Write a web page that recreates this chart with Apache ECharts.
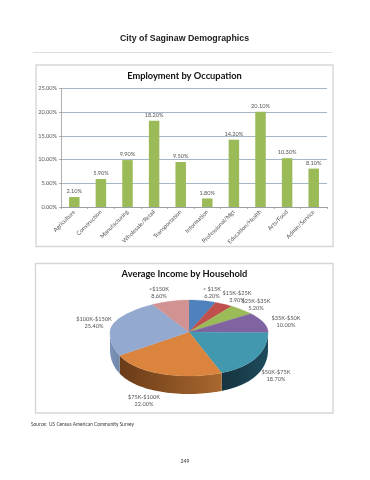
<!DOCTYPE html>
<html>
<head>
<meta charset="utf-8">
<style>html,body{margin:0;padding:0;background:#fff}#c{width:370px;height:480px}</style>
<script src="https://cdn.jsdelivr.net/npm/echarts@6/dist/echarts.min.js"></script>
</head>
<body>
<div id="c"></div>
<script>
var occupations = ['Agriculture','Construction','Manufacturing','Wholesale/Retail','Transportation','Information','Professional/Mgt','Education/Health','Arts/Food','Admin/Service'];
var occupationShares = [2.1,5.9,9.9,18.2,9.5,1.8,14.2,20.1,10.3,8.1];
var incomeBands = ['< $15K','$15K-$25K','$25K-$35K','$35K-$50K','$50K-$75K','$75K-$100K','$100K-$150K','>$150K'];
var incomeShares = [6.2,3.9,5.2,10.0,18.7,22.0,25.4,8.6];

var topColors = ['#4f81bd','#c0504d','#9bbb59','#8064a2','#4198af','#db843d','#93a9cf','#d19392'];
var sideStops = [null,null,null,null,['#1d4b5c','#17333f'],['#a9682f','#6a3b18'],['#6e87ab','#7d94b8'],null];
var labelAnchors = [[212,292.5],[237,296.5],[256,304.5],[286,321.5],[276,375.5],[144,400.5],[94,322.5],[159,292.5]];
var pie = {cx:189, cy:332, rx:79, ryBack:32, ryFront:44, depth:18, perspective:0.14};

var total = incomeShares.reduce(function(a,b){return a+b;},0);
function rim(deg, drop){
  var t = deg*Math.PI/180, c = Math.cos(t);
  return [pie.cx + pie.rx*Math.sin(t)*(1-pie.perspective*c*Math.abs(c)), pie.cy - c*(c>0?pie.ryBack:pie.ryFront) + (drop||0)];
}
function arc(a0,a1,drop){
  var pts=[], n=Math.max(2,Math.ceil((a1-a0)/2));
  for(var i=0;i<=n;i++) pts.push(rim(a0+(a1-a0)*i/n,drop));
  return pts;
}
function renderSlice(params, api){
  var i = params.dataIndex, before = 0;
  for(var k=0;k<i;k++) before += incomeShares[k];
  var a0 = before/total*360, a1 = (before+api.value(1))/total*360;
  var children = [];
  var s0 = Math.max(a0,90), s1 = Math.min(a1,270);
  if(s1>s0 && sideStops[i]){
    var upper = arc(s0,s1,0), lower = arc(s0,s1,pie.depth).reverse();
    children.push({type:'polygon',shape:{points:upper.concat(lower)},
      style:{fill:new echarts.graphic.LinearGradient(0,0,1,0,[{offset:0,color:sideStops[i][1]},{offset:1,color:sideStops[i][0]}])}});
  }
  children.push({type:'polygon',shape:{points:[[pie.cx,pie.cy]].concat(arc(a0,a1,0))},
    style:{fill:topColors[i],stroke:topColors[i],lineWidth:0.3}});
  var a = labelAnchors[i];
  children.push({type:'text',x:a[0],y:a[1],style:{
    text:incomeBands[i]+'\n'+api.value(1).toFixed(2)+'%',
    font:'5.6px Lato',fill:'#555',align:'center',verticalAlign:'middle',lineHeight:7}});
  return {type:'group',children:children};
}

var chart = echarts.init(document.getElementById('c'),null,{renderer:'canvas'});
function txt(t,x,y,font,fill,align){
  return {type:'text',x:x,y:y,z:5,style:{text:t,font:font,fill:fill,align:align||'center',verticalAlign:'middle'}};
}
function box(x,y,w,h){
  return {type:'rect',shape:{x:x,y:y,width:w,height:h},z:0,style:{fill:'#fff',stroke:'#d6d6d6',lineWidth:1.4}};
}
chart.setOption({
  animation:false,
  backgroundColor:'#fff',
  graphic:[
    box(36,65,297,181.5),
    box(35.5,263.5,297.5,149.5),
    {type:'line',shape:{x1:33,y1:52.5,x2:332,y2:52.5},style:{stroke:'#dedede',lineWidth:1}},
    txt('City of Saginaw Demographics',184.5,38.5,'bold 8.8px "Liberation Sans"','#222'),
    txt('Employment by Occupation',184.5,75.5,'bold 9.3px Lato','#111'),
    txt('Average Income by Household',184.5,274,'bold 9.3px Lato','#111'),
    txt('Source:  US Census American Community Survey',31,424.5,'4.8px Lato','#333','left'),
    txt('249',185,461,'5.2px Lato','#333')
  ],
  grid:{left:61,right:43,top:88.5,bottom:273,containLabel:false},
  xAxis:{type:'category',data:occupations,
    axisLine:{lineStyle:{color:'#9a9a9a',width:0.8}},
    axisTick:{show:true,length:2,alignWithLabel:false,lineStyle:{color:'#9a9a9a',width:0.8}},
    axisLabel:{rotate:45,interval:0,fontSize:5.8,fontFamily:'Lato',color:'#555',margin:4}},
  yAxis:{type:'value',min:0,max:25,interval:5,
    axisLine:{show:true,lineStyle:{color:'#9a9a9a',width:0.8}},
    axisTick:{show:true,length:2,lineStyle:{color:'#9a9a9a',width:0.8}},
    splitLine:{lineStyle:{color:'#a4b7c9',width:1}},
    axisLabel:{fontSize:5.6,fontFamily:'Lato',color:'#555',margin:4,
      formatter:function(v){return v.toFixed(2)+'%';}}},
  series:[
    {type:'bar',data:occupationShares,barWidth:10.5,z:3,
      itemStyle:{color:'#9bbb59'},
      label:{show:true,position:'top',distance:2.5,fontSize:5.6,fontFamily:'Lato',color:'#555',
        formatter:function(p){return p.value.toFixed(2)+'%';}}},
    {type:'custom',coordinateSystem:'none',z:4,clip:false,
      data:incomeBands.map(function(b,i){return [i,incomeShares[i]];}),
      renderItem:renderSlice}
  ]
});
</script>
</body>
</html>
